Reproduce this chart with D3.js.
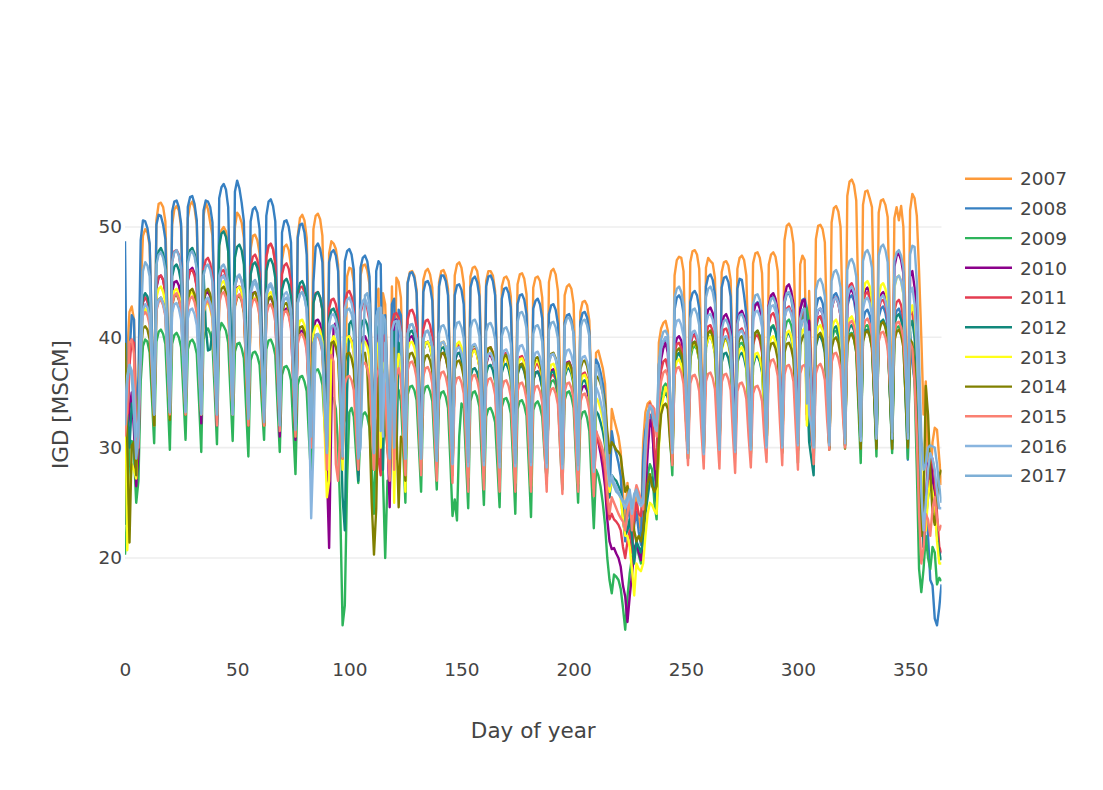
<!DOCTYPE html>
<html>
<head>
<meta charset="utf-8">
<script src="https://cdn.jsdelivr.net/npm/d3@7"></script>
<style>
  body { margin: 0; background: #fff; }
  svg text { font-family: "DejaVu Sans", Verdana, sans-serif; fill: #444; }
</style>
</head>
<body>
<svg id="chart" width="1103" height="790"></svg>
<script>
const years = ['2007', '2008', '2009', '2010', '2011', '2012', '2013', '2014', '2015', '2016', '2017']
const colors = ['#fd9a3a', '#3780c2', '#2eb45b', '#8b008b', '#e43d51', '#11887c',
  '#ffff1a', '#808000', '#fa8072', '#89b5df', '#7eafd6']
const xTicks = [0, 50, 100, 150, 200, 250, 300, 350]
const yTicks = [20, 30, 40, 50]

// daily values, one week per line (Mon..Sun), day 364 at the end
const y2007 = [
30.5,38.2,42.3,42.8,41.6,33.5,31.0,
44.0,49.2,49.8,49.5,48.3,40.5,33.2,
50.6,52.1,52.2,51.8,50.5,42.0,34.1,
50.2,51.6,51.9,51.5,50.0,41.8,33.8,
50.8,52.0,52.3,51.7,50.2,41.5,33.5,
51.0,52.2,51.6,50.4,49.2,40.6,33.0,
48.6,49.7,50.0,49.6,48.1,40.1,33.2,
50.0,51.3,51.0,50.4,49.0,40.5,32.9,
48.0,49.2,49.3,48.8,47.6,39.8,33.0,
47.2,48.3,48.4,48.0,46.8,39.2,32.5,
47.0,48.2,48.4,47.9,46.5,38.8,32.1,
49.2,50.8,51.1,50.6,49.0,40.6,33.0,
49.8,51.0,51.2,50.7,49.2,40.7,32.8,
47.6,48.7,48.5,48.0,46.6,38.5,31.8,
32.5,45.5,46.3,46.2,45.0,37.6,30.9,
45.6,46.5,46.6,46.1,44.8,37.5,30.6,
43.6,44.4,33.0,44.0,43.0,36.2,29.8,
44.6,33.5,45.4,45.0,43.6,36.5,30.2,
45.0,45.9,46.0,45.6,44.3,37.0,30.4,
45.2,46.0,46.2,45.7,44.5,37.2,30.5,
45.0,46.0,46.1,45.6,44.4,36.8,30.0,
45.6,46.6,46.8,46.3,44.9,37.1,30.2,
45.5,46.3,46.4,46.0,44.6,36.9,29.9,
45.1,46.0,46.0,45.6,44.2,36.6,29.6,
44.6,45.4,45.5,45.1,43.7,36.3,29.4,
44.8,45.7,45.8,45.3,43.9,36.4,29.6,
44.5,45.4,45.5,45.1,43.6,36.0,29.1,
45.0,46.0,46.2,45.7,44.2,36.5,29.4,
43.8,44.6,44.8,44.4,43.0,35.6,28.9,
42.3,43.2,43.3,42.9,41.5,34.6,28.4,
38.6,38.8,38.0,37.2,35.8,30.5,26.8,
33.5,32.6,31.8,31.0,29.6,25.8,23.2,
26.8,25.0,21.0,24.5,25.8,23.6,22.4,
30.5,33.2,34.0,34.2,33.5,29.0,26.0,
39.5,40.8,41.3,41.5,40.6,34.5,29.6,
45.6,47.0,47.3,47.2,46.0,37.8,29.8,
46.8,47.8,47.9,47.5,46.2,38.2,30.1,
46.3,47.2,46.9,46.7,45.4,37.6,30.0,
45.9,46.8,46.9,46.5,45.2,37.5,30.2,
46.2,47.2,47.4,47.0,45.6,37.7,30.0,
46.7,47.6,47.7,47.2,45.8,37.9,30.2,
46.6,47.5,47.7,47.3,46.0,38.2,30.6,
48.8,50.1,50.3,49.9,48.5,39.8,31.1,
46.6,47.4,47.0,33.5,44.2,37.5,31.0,
48.9,50.1,50.2,49.8,48.6,40.0,31.6,
50.4,51.7,51.9,51.4,50.0,41.0,32.2,
52.8,54.1,54.3,53.8,52.4,42.5,33.0,
52.0,53.2,53.3,52.6,51.8,42.0,33.2,
51.3,52.4,52.5,52.0,50.9,41.6,32.9,
50.8,51.8,50.6,51.9,50.0,41.2,32.8,
51.5,53.0,52.6,51.0,46.0,40.0,33.0,
36.0,27.0,26.5,30.5,31.8,31.6,29.0,
26.6]

const y2008 = [
48.7,30.5,38.5,42.0,41.6,31.0,36.5,
48.8,50.6,50.5,49.9,48.5,40.5,32.6,
50.2,51.1,51.0,50.2,48.9,40.8,32.1,
51.4,52.3,52.4,51.8,50.3,41.5,32.2,
51.8,52.7,52.8,52.1,50.6,41.7,32.0,
51.5,52.4,52.3,51.8,50.4,41.6,32.3,
52.6,53.6,53.9,53.4,51.8,42.3,32.4,
53.2,54.2,53.5,52.2,50.5,41.5,32.0,
50.5,51.6,51.8,51.3,49.8,41.0,32.2,
51.0,52.3,52.5,51.9,50.5,41.4,32.0,
49.5,50.5,50.6,50.0,48.6,40.0,31.2,
49.0,50.2,50.3,49.5,47.5,37.0,29.5,
45.0,48.2,48.5,48.0,46.8,38.5,30.2,
46.8,47.7,47.9,47.4,46.0,37.8,30.0,
46.9,47.8,48.0,47.5,46.1,37.9,29.9,
46.3,47.2,47.4,46.9,45.5,37.2,29.2,
46.0,46.9,46.6,33.0,42.0,36.0,29.0,
43.0,43.5,32.5,42.5,42.0,35.5,29.0,
44.9,45.8,45.9,45.4,44.0,36.5,29.1,
44.1,45.0,45.1,44.6,43.3,36.0,28.8,
44.6,45.6,45.6,45.1,43.8,36.0,28.6,
43.8,44.7,44.8,44.3,43.0,35.4,28.5,
44.5,45.3,45.5,45.0,43.7,35.8,28.7,
44.6,45.5,45.6,45.1,43.8,35.9,28.6,
43.5,44.4,44.5,44.0,42.7,35.2,28.3,
43.0,43.8,43.9,43.4,42.1,34.9,28.2,
42.6,43.3,43.5,43.0,41.7,34.6,28.0,
42.1,42.9,43.0,42.5,41.2,34.2,27.8,
41.3,42.0,42.1,41.6,40.3,33.6,27.5,
41.4,42.2,42.3,41.8,40.5,33.7,27.6,
38.0,37.6,36.8,35.8,34.2,29.2,25.5,
31.5,30.2,29.5,28.6,27.4,24.0,21.5,
24.8,23.6,20.5,23.0,24.2,22.4,21.2,
29.0,31.5,32.5,33.0,32.4,28.2,25.6,
37.5,39.0,39.6,40.0,39.2,33.6,29.0,
42.5,43.6,43.8,43.4,42.2,35.8,29.6,
43.2,44.0,44.2,43.8,42.6,36.0,29.8,
44.6,45.5,45.7,45.2,43.9,36.8,30.0,
44.5,45.4,45.5,45.0,43.7,36.7,30.1,
44.4,45.3,45.2,43.8,42.0,35.5,29.8,
42.3,43.0,43.2,42.8,41.5,35.2,29.9,
42.8,43.6,43.7,43.2,41.9,35.5,30.0,
43.1,43.9,44.0,43.5,42.2,35.7,30.2,
42.5,43.4,43.5,42.6,33.0,30.5,29.8,
42.6,43.5,43.6,43.1,41.8,35.5,30.0,
43.0,43.8,44.0,43.5,42.2,35.8,30.2,
42.8,43.6,43.8,43.3,42.0,35.6,29.8,
41.5,42.3,42.5,42.0,40.8,35.0,30.0,
41.8,42.6,42.8,42.2,41.0,35.2,29.8,
41.6,42.4,42.6,42.0,40.5,34.5,28.9,
40.5,37.6,36.0,33.5,30.0,26.0,24.0,
25.0,22.0,18.0,17.5,14.5,13.9,15.5,
17.6]

const y2009 = [
20.3,24.0,30.2,30.6,29.4,25.0,27.0,
36.0,39.2,39.8,39.6,38.6,34.5,30.4,
39.6,40.5,40.7,40.3,39.4,34.8,29.8,
39.4,40.2,40.4,40.0,39.1,35.0,30.7,
38.9,39.6,39.8,39.4,38.5,34.2,29.6,
39.8,40.6,40.8,40.3,39.4,35.0,30.3,
40.5,41.3,41.0,40.6,39.5,35.0,30.6,
38.7,39.4,39.5,39.0,38.1,33.6,29.2,
37.9,38.6,38.7,38.3,37.5,34.0,30.7,
38.9,39.7,39.8,39.3,38.4,33.8,29.6,
36.6,37.3,37.4,37.0,36.1,31.8,27.6,
35.7,36.4,36.5,36.0,35.1,31.0,27.1,
36.2,37.0,37.1,36.6,35.7,32.0,28.9,
33.8,34.4,34.5,33.5,30.0,24.0,13.9,
15.7,27.0,33.2,33.6,32.8,29.5,26.8,
31.5,33.0,33.2,32.8,31.8,28.0,24.0,
32.0,33.0,32.5,27.5,20.0,27.0,25.8,
33.5,35.0,35.5,35.2,34.2,30.0,25.0,
34.8,35.5,35.6,35.2,34.3,30.2,26.0,
34.8,35.5,35.6,35.1,34.2,30.0,26.2,
34.3,35.0,35.1,34.6,33.6,29.0,23.8,
25.3,23.4,31.0,34.0,33.6,29.0,24.5,
34.2,35.0,35.1,34.6,33.7,29.2,24.8,
32.8,33.5,33.6,33.1,32.3,28.5,24.6,
33.7,34.4,34.5,34.0,33.1,28.8,24.0,
33.5,34.2,34.3,33.8,32.9,28.5,23.7,
33.4,34.0,34.2,33.7,32.8,29.5,27.0,
35.2,36.0,36.1,35.7,34.6,30.0,26.2,
34.3,35.0,35.1,34.6,33.6,29.2,25.0,
32.5,33.2,33.3,32.7,31.5,27.0,22.7,
28.0,27.5,26.5,25.0,23.0,20.0,18.0,
16.8,18.5,18.3,18.0,17.2,15.5,13.5,
16.5,18.6,20.0,21.0,21.2,20.3,19.5,
22.5,25.5,27.5,28.5,28.0,25.0,23.5,
32.0,34.5,35.5,35.8,35.0,31.0,27.5,
37.2,38.3,38.5,38.2,37.2,33.0,29.0,
38.0,39.0,39.2,38.9,37.9,33.6,29.2,
39.5,40.4,40.6,40.2,39.2,34.5,29.5,
39.0,39.9,40.0,39.6,38.6,34.0,29.4,
38.5,39.4,39.5,39.1,38.0,33.6,29.0,
39.5,40.4,40.6,40.1,39.0,34.3,29.6,
40.0,40.9,41.1,40.6,39.6,34.6,29.5,
40.5,41.4,41.6,41.1,40.0,34.5,28.6,
40.6,41.5,42.9,42.5,41.3,35.0,30.5,
40.8,41.7,41.9,41.3,40.2,35.0,30.0,
39.6,40.5,40.6,40.1,39.2,34.8,30.7,
39.5,40.3,40.4,39.8,38.6,33.5,28.6,
40.2,41.0,41.1,40.6,39.5,34.5,29.2,
40.5,41.4,41.5,41.0,40.0,34.8,29.5,
40.0,40.9,41.0,40.5,39.4,34.4,29.0,
39.5,39.0,36.0,28.0,19.0,16.9,19.0,
22.0,20.0,19.0,21.0,20.5,17.6,18.2,
17.9]

const y2010 = [
24.0,30.5,33.5,35.0,31.5,26.5,29.5,
40.5,43.2,43.6,43.3,42.4,37.5,32.0,
44.5,45.4,45.6,45.2,44.0,38.5,33.1,
44.1,45.0,45.1,44.7,43.6,38.2,33.0,
45.2,46.1,46.3,45.8,44.6,38.6,32.2,
43.2,44.0,44.1,43.7,42.6,37.4,32.0,
44.6,45.5,45.6,45.1,44.0,38.8,33.5,
43.6,44.5,44.6,44.1,43.0,37.8,32.5,
43.2,44.0,44.1,43.6,42.5,37.2,32.0,
42.6,43.5,43.6,43.1,42.0,36.6,31.0,
41.7,42.5,42.6,42.1,41.0,35.8,30.7,
39.8,40.5,40.6,40.2,39.2,35.0,31.0,
40.8,41.5,41.6,41.2,40.0,35.0,28.0,
20.9,33.0,41.0,41.3,40.2,34.5,29.0,
39.3,40.0,40.1,39.7,38.7,33.2,27.5,
39.2,40.0,40.1,39.6,38.6,33.4,28.0,
39.7,40.5,40.6,40.1,38.0,31.0,24.6,
38.5,41.4,41.6,41.1,40.0,34.5,28.0,
39.2,40.0,40.1,39.6,38.6,33.5,28.0,
38.8,39.5,39.6,39.1,38.1,33.2,28.0,
37.8,38.5,38.6,38.2,37.2,32.4,27.5,
37.8,38.5,38.6,38.1,37.1,32.8,28.7,
38.0,38.8,38.9,38.4,37.4,32.6,27.8,
37.5,38.3,38.4,37.9,36.9,32.2,27.5,
37.3,38.0,38.1,37.6,36.6,32.0,27.3,
36.8,37.5,37.6,37.1,36.1,31.6,27.0,
36.1,36.8,36.9,36.5,35.5,31.2,27.0,
36.3,37.0,37.1,36.7,35.7,31.4,27.2,
37.0,37.7,37.8,37.3,36.3,31.8,27.7,
34.9,35.5,35.6,35.2,34.3,30.5,26.5,
31.5,30.5,29.5,28.2,26.5,23.5,21.5,
20.8,20.9,20.4,20.0,19.2,17.5,16.5,
14.2,16.5,18.5,20.5,21.5,20.5,19.8,
22.0,26.0,29.5,32.5,31.8,28.5,26.5,
35.0,38.0,39.0,39.5,38.6,34.0,30.0,
39.0,39.9,40.1,39.7,38.6,34.2,30.1,
39.3,40.1,40.3,39.9,38.8,34.5,30.3,
41.6,42.5,42.7,42.2,41.0,35.8,30.5,
41.0,41.9,42.1,41.6,40.5,35.5,30.4,
41.3,42.2,42.4,41.9,40.7,35.6,30.3,
42.0,42.9,43.1,42.6,41.4,36.0,30.4,
42.9,43.8,44.0,43.5,42.3,36.6,30.6,
43.6,44.6,44.8,44.2,43.0,37.0,30.8,
42.5,43.3,43.4,33.0,41.5,36.0,30.5,
41.6,42.4,42.6,42.1,41.0,35.8,30.8,
42.6,43.4,43.6,43.1,42.0,36.5,31.0,
43.2,44.1,44.3,43.8,42.6,37.0,31.2,
43.4,44.3,44.5,44.0,42.8,37.2,31.5,
43.1,43.9,44.1,43.6,42.4,36.8,31.2,
46.4,47.4,47.6,47.0,45.8,38.5,31.0,
45.5,46.0,44.5,41.0,36.0,26.0,21.0,
25.5,28.5,29.0,27.5,25.0,22.5,20.5,
20.5]

const y2011 = [
26.0,31.5,37.5,39.8,39.5,30.5,31.0,
40.5,43.2,43.6,43.3,42.4,37.8,33.0,
44.6,45.5,45.6,45.2,44.1,38.8,33.1,
46.8,47.8,47.9,47.5,46.2,39.8,33.4,
45.1,46.0,46.1,45.6,44.5,38.8,33.0,
46.1,47.0,47.2,46.7,45.5,39.0,32.5,
45.1,46.0,46.1,45.6,44.5,38.6,33.0,
44.6,45.4,45.6,45.1,44.0,38.0,32.0,
46.4,47.3,47.5,47.0,45.8,39.0,32.0,
47.3,48.3,48.5,48.0,46.7,39.5,32.0,
45.7,46.5,46.7,46.2,45.0,38.5,31.5,
43.7,44.5,44.6,44.1,43.0,37.2,31.0,
43.2,44.0,44.1,43.6,42.5,36.5,30.0,
42.6,43.4,43.5,43.0,41.9,35.6,29.0,
43.2,44.0,44.2,43.7,42.5,35.8,29.0,
42.2,43.0,43.1,42.6,41.5,35.0,28.0,
40.0,29.0,27.5,38.5,40.2,34.0,28.5,
41.3,42.1,42.2,41.8,40.7,34.8,29.0,
41.6,42.4,42.5,42.0,40.9,34.9,29.0,
40.7,41.5,41.6,41.1,40.0,34.2,28.5,
38.8,39.5,39.6,39.1,38.0,33.0,28.4,
38.5,39.2,39.3,38.8,37.8,32.8,28.0,
38.1,38.8,38.9,38.4,37.4,32.5,27.8,
38.3,39.0,39.1,38.6,37.6,32.6,28.0,
37.8,38.5,38.6,38.1,37.1,32.2,27.6,
37.5,38.2,38.3,37.8,36.8,32.0,27.5,
36.8,37.5,37.6,37.1,36.1,31.6,27.3,
35.9,36.5,36.6,36.2,35.2,31.0,27.0,
36.9,37.6,37.7,37.2,36.2,31.5,27.2,
36.0,36.7,36.8,36.3,35.3,30.8,26.8,
31.0,30.5,30.0,29.2,27.8,25.0,23.5,
24.0,23.5,23.3,23.0,22.5,21.0,20.0,
21.5,22.5,20.5,23.5,25.0,24.0,23.8,
25.5,29.5,32.5,34.0,33.5,30.0,28.0,
35.5,37.0,37.8,38.0,37.2,33.0,29.5,
38.6,39.4,39.5,39.0,38.0,33.8,29.8,
39.3,40.1,40.2,39.7,38.7,34.3,30.0,
40.1,41.0,41.1,40.6,39.5,34.8,30.2,
39.8,40.7,40.8,40.3,39.2,34.6,30.2,
39.8,40.6,40.8,40.3,39.2,34.5,30.0,
39.3,40.1,40.2,39.7,38.6,34.2,30.2,
41.2,42.0,42.2,41.7,40.5,35.3,30.4,
41.8,42.6,42.8,42.3,41.1,35.6,30.5,
41.5,42.3,42.5,32.5,40.0,35.0,30.4,
41.0,41.8,41.9,41.4,40.3,35.2,30.6,
42.5,43.4,43.6,43.1,41.9,36.3,31.0,
43.8,44.7,44.9,44.3,43.1,37.0,31.4,
43.1,43.9,44.1,43.6,42.4,37.2,32.0,
42.5,43.3,43.4,42.9,41.8,37.6,33.8,
42.4,43.2,43.4,42.9,41.7,36.5,31.5,
42.0,42.5,40.5,37.0,32.0,25.0,21.5,
24.0,26.5,28.5,29.0,27.5,24.0,21.0,
20.5]

const y2012 = [
23.0,33.0,30.0,34.0,33.0,28.5,31.0,
42.0,43.6,44.0,43.7,42.8,37.5,32.0,
46.8,47.8,48.1,47.6,46.4,40.0,33.0,
45.5,46.4,46.6,46.1,45.0,39.2,33.0,
46.9,47.9,48.1,47.6,46.4,40.0,33.2,
46.0,41.0,38.8,38.9,40.5,39.0,36.0,
48.3,49.4,49.6,49.1,47.8,41.0,34.0,
47.2,48.2,48.4,47.9,46.6,40.2,33.0,
45.7,46.6,46.8,46.3,45.1,39.2,33.0,
46.0,46.9,47.1,46.6,45.4,39.0,32.0,
44.3,45.1,45.3,44.8,43.7,38.0,32.0,
44.1,44.9,45.1,44.6,43.5,37.6,31.0,
43.1,43.9,44.1,43.6,42.5,36.5,30.0,
41.7,42.5,42.6,42.1,41.0,33.0,25.5,
22.5,35.0,41.2,41.5,40.5,34.5,27.0,
40.7,41.5,41.6,41.1,40.0,34.2,28.0,
40.2,41.0,41.1,28.0,37.5,33.5,27.5,
39.8,40.5,29.0,39.5,39.0,33.5,28.0,
39.7,40.5,40.6,40.1,39.0,33.6,28.0,
38.8,39.5,39.6,39.1,38.1,33.0,28.0,
38.3,39.0,39.1,38.6,37.6,32.6,27.8,
37.8,38.5,38.6,38.1,37.1,32.3,27.6,
36.4,37.1,37.2,36.8,35.8,31.4,27.2,
36.7,37.4,37.5,37.0,36.0,31.5,27.2,
36.8,37.5,37.6,37.1,36.1,31.6,27.0,
36.6,37.3,37.4,36.9,35.9,31.4,26.8,
36.1,36.8,36.9,36.4,35.4,31.0,26.7,
36.1,36.8,36.9,36.4,35.4,31.0,26.8,
36.4,37.1,37.2,36.7,35.7,31.2,26.9,
35.3,36.0,36.1,35.6,34.6,30.4,26.3,
33.3,33.0,32.3,31.5,30.2,27.5,25.5,
27.5,27.2,27.0,26.5,26.0,23.5,22.0,
22.5,23.5,22.0,19.5,21.5,21.0,20.5,
21.5,24.0,25.5,27.0,27.3,26.0,25.0,
30.5,34.2,34.6,35.0,34.5,31.5,29.0,
37.6,38.4,38.6,38.1,37.1,33.0,29.0,
38.6,39.5,39.6,39.1,38.0,33.8,29.5,
39.1,39.9,40.1,39.6,38.5,34.2,29.6,
37.7,38.5,38.6,38.1,37.1,33.2,29.5,
37.7,38.4,38.6,38.1,37.1,33.0,29.4,
37.4,38.2,38.3,37.8,36.8,33.0,29.6,
40.0,40.8,41.0,40.5,39.4,34.6,29.8,
39.5,40.2,40.4,39.9,38.8,34.3,29.8,
39.4,40.1,40.3,36.0,30.5,29.0,27.5,
39.2,40.0,40.1,39.6,38.6,34.2,30.0,
40.0,40.8,41.0,40.5,39.4,34.8,30.2,
40.1,40.9,41.1,40.6,39.5,34.8,30.4,
39.8,40.6,40.7,40.2,39.1,34.6,30.2,
40.6,41.4,41.6,41.1,40.0,35.0,30.5,
41.1,41.9,42.1,41.6,40.5,35.3,30.4,
41.0,41.5,40.0,36.5,31.0,25.0,21.0,
23.5,25.5,26.5,26.0,24.5,22.0,20.5,
19.8]

const y2013 = [
37.9,20.7,25.5,28.5,28.0,27.2,33.0,
39.5,42.0,42.6,42.3,41.4,37.0,32.0,
43.6,44.4,44.6,44.1,43.1,38.0,32.6,
43.4,44.2,44.4,43.9,42.9,38.0,33.0,
43.1,43.9,44.1,43.6,42.6,37.8,33.0,
42.2,43.0,43.1,42.6,41.6,37.2,33.0,
44.1,44.9,45.1,44.6,43.5,38.3,33.0,
43.6,44.4,44.6,44.1,43.0,37.8,32.5,
42.7,43.5,43.6,43.1,42.1,37.0,32.0,
43.1,43.9,44.1,43.6,42.6,37.3,32.0,
42.2,43.0,43.1,42.6,41.6,36.5,31.5,
40.7,41.5,41.6,41.1,40.1,35.5,31.0,
40.3,41.0,41.1,40.6,39.6,31.5,25.5,
27.0,39.5,40.1,39.7,38.7,33.5,28.0,
39.2,40.0,40.1,39.6,38.6,33.8,29.0,
38.8,39.5,39.6,39.1,38.1,33.2,28.0,
38.8,39.5,30.0,37.5,37.8,33.0,28.0,
38.0,25.0,36.0,38.5,38.0,32.5,26.0,
38.8,39.5,39.6,39.1,38.1,33.2,28.0,
38.8,39.5,39.6,39.1,38.1,33.2,28.0,
38.8,39.5,39.6,39.1,38.1,33.0,27.5,
38.8,39.4,39.6,39.1,38.1,32.8,27.3,
38.0,38.7,38.8,38.3,37.3,32.4,27.2,
37.8,38.5,38.6,38.1,37.1,32.2,27.0,
37.3,38.0,38.1,37.6,36.6,31.8,26.8,
37.3,38.0,38.1,37.6,36.6,31.6,26.5,
37.1,37.8,37.9,37.4,36.4,31.6,26.8,
36.8,37.5,37.6,37.1,36.1,31.4,26.8,
36.7,37.4,37.5,37.0,36.0,31.3,26.7,
35.8,36.5,36.6,36.1,35.1,30.6,26.3,
34.5,34.2,33.5,32.6,31.2,28.0,26.0,
27.0,26.5,26.2,26.0,25.4,23.5,22.0,
22.0,21.0,19.0,16.6,19.5,19.0,18.8,
19.5,22.0,24.0,25.0,24.8,24.3,24.0,
30.0,33.5,34.5,35.5,35.0,31.5,29.0,
37.1,37.8,38.0,37.5,36.5,32.8,29.2,
38.5,39.3,39.5,39.0,38.0,33.8,29.5,
39.1,39.9,40.1,39.6,38.5,34.2,29.6,
38.8,39.6,39.8,39.3,38.2,34.0,29.6,
38.1,38.9,39.1,38.6,37.5,33.5,29.4,
37.7,38.5,38.6,38.1,37.1,33.2,29.5,
39.1,39.9,40.1,39.6,38.5,34.2,29.8,
39.6,40.4,40.6,40.1,39.0,34.6,30.0,
39.8,40.6,40.8,32.0,37.0,34.0,30.0,
40.1,40.9,41.1,40.6,39.5,35.0,30.2,
40.6,41.4,41.6,41.1,40.0,35.4,30.4,
40.9,41.7,41.9,41.4,40.3,35.6,30.5,
44.0,44.9,45.1,44.6,43.4,37.6,31.0,
43.8,44.7,44.9,44.4,43.2,37.4,31.0,
44.5,45.4,45.6,45.1,43.9,37.8,31.2,
42.1,42.9,42.0,39.0,34.0,28.0,23.0,
22.5,25.5,27.0,26.0,24.5,21.5,19.5,
19.5]

const y2014 = [
39.5,30.5,21.4,30.2,30.5,27.5,33.5,
38.5,40.8,41.0,40.7,39.8,36.0,32.0,
42.6,43.4,43.6,43.1,42.1,37.5,32.5,
42.9,43.7,43.9,43.4,42.4,37.8,33.0,
43.4,44.2,44.4,43.9,42.8,38.0,33.0,
43.4,44.2,44.4,43.9,42.8,38.0,33.0,
43.6,44.4,44.6,44.1,43.0,38.0,33.0,
42.8,43.6,43.8,43.3,42.2,37.3,32.0,
43.1,43.9,44.1,43.6,42.5,37.4,32.0,
42.7,43.5,43.7,43.2,42.1,37.1,32.0,
42.2,43.0,43.1,42.6,41.5,36.5,31.0,
40.1,40.9,41.0,40.5,39.5,35.0,30.5,
39.4,40.2,40.3,39.8,38.8,34.4,30.0,
38.7,39.5,39.6,39.1,38.1,33.6,29.0,
37.8,38.5,38.6,38.1,37.1,32.8,28.0,
37.8,38.5,38.6,37.0,32.0,25.0,20.3,
24.5,35.5,38.0,36.5,32.0,30.0,28.0,
38.5,39.0,32.0,24.6,31.0,30.5,27.0,
37.8,38.5,38.6,38.1,37.1,33.0,29.0,
37.6,38.3,38.4,37.9,36.9,32.6,28.5,
37.8,38.5,38.6,38.1,37.1,32.8,28.5,
37.1,37.8,37.9,37.4,36.4,32.2,28.0,
38.5,39.2,39.3,38.8,37.8,33.2,28.5,
38.3,39.0,39.1,38.6,37.6,33.0,28.2,
37.6,38.3,38.4,37.9,36.9,32.4,27.8,
36.8,37.5,37.6,37.1,36.1,31.8,27.5,
37.4,38.1,38.2,37.7,36.7,32.2,27.8,
37.8,38.5,38.6,38.1,37.1,32.6,28.0,
36.9,37.6,37.7,37.2,36.2,32.0,27.8,
37.1,37.8,37.9,37.4,36.4,32.2,28.0,
36.5,36.3,35.8,35.0,34.0,31.5,29.5,
30.5,30.2,29.8,29.6,29.2,27.5,26.0,
26.5,25.5,24.0,22.5,21.5,22.0,21.5,
22.5,25.0,26.8,27.6,26.5,26.0,26.5,
30.5,33.0,33.8,34.0,33.5,30.5,28.5,
38.0,38.8,39.0,38.5,37.5,33.5,29.5,
38.6,39.4,39.6,39.1,38.1,34.0,29.6,
39.6,40.4,40.6,40.1,39.0,34.6,29.8,
39.0,39.8,40.0,39.5,38.4,34.2,29.7,
39.1,39.9,40.1,39.6,38.5,34.3,29.8,
39.6,40.4,40.6,40.1,39.0,34.6,29.8,
38.6,39.4,39.5,39.0,38.0,33.8,29.6,
38.6,39.4,39.5,39.0,38.0,33.8,29.7,
39.3,40.0,40.2,39.7,38.6,31.5,29.6,
39.4,40.2,40.4,39.9,38.8,34.5,29.8,
39.0,39.8,40.0,39.5,38.4,34.2,29.9,
39.3,40.1,40.3,39.8,38.7,34.4,29.9,
39.6,40.4,40.6,40.1,39.0,34.6,29.9,
40.4,41.2,41.4,40.9,39.8,35.0,29.9,
39.7,40.5,40.7,40.2,39.1,34.6,30.0,
39.8,39.5,37.5,32.0,26.0,22.0,24.5,
35.6,33.0,28.0,24.0,23.0,25.5,27.5,
28.0]

const y2015 = [
31.0,33.5,39.5,39.8,38.5,30.5,30.0,
40.0,42.0,42.3,42.0,41.1,37.0,33.0,
42.4,43.2,43.4,42.9,41.9,37.6,33.0,
43.0,43.8,44.0,43.5,42.5,38.0,33.0,
42.7,43.5,43.7,43.2,42.2,37.6,33.0,
42.3,43.1,43.3,42.8,41.8,37.0,32.0,
43.1,43.9,44.1,43.6,42.5,37.6,33.0,
42.9,43.7,43.9,43.4,42.3,37.2,32.0,
42.5,43.3,43.5,43.0,41.9,37.0,32.0,
42.0,42.8,43.0,42.5,41.4,36.6,31.5,
41.5,42.3,42.4,41.9,40.8,36.0,31.0,
39.4,40.2,40.3,39.8,38.8,34.6,30.0,
39.2,40.0,40.1,39.6,38.6,33.6,28.0,
38.0,38.4,37.8,28.5,27.0,32.0,29.0,
35.8,36.4,36.5,36.1,35.2,31.5,28.0,
36.9,37.6,37.7,37.2,36.2,32.2,28.0,
36.3,37.0,37.1,36.6,35.6,30.0,27.0,
36.6,28.0,36.5,37.2,36.2,31.8,27.5,
37.0,37.7,37.8,37.3,36.3,32.0,27.5,
36.5,37.2,37.3,36.8,35.8,31.6,27.0,
36.1,36.8,36.9,36.4,35.4,31.2,26.8,
35.6,36.3,36.4,35.9,34.9,30.8,26.0,
35.8,36.5,36.6,36.1,35.1,30.8,26.2,
35.5,36.2,36.3,35.8,34.8,30.6,26.0,
35.3,36.0,36.1,35.6,34.6,30.4,26.0,
35.1,35.8,35.9,35.4,34.4,30.3,26.0,
34.8,35.5,35.6,35.1,34.1,30.0,26.0,
34.6,35.3,35.4,34.9,33.9,29.9,25.8,
35.1,35.8,35.9,35.4,34.4,30.2,26.0,
34.1,34.8,34.9,34.4,33.4,29.6,25.6,
31.5,31.0,30.5,29.8,28.6,26.0,24.0,
25.5,25.0,24.5,24.0,23.6,23.3,22.5,
24.0,26.0,22.5,25.5,26.6,26.0,25.3,
24.4,28.5,32.0,33.9,33.8,33.5,31.0,
34.0,36.0,36.8,37.0,36.5,32.5,28.4,
36.5,37.2,37.3,36.8,35.8,32.0,28.4,
35.8,36.5,36.6,36.1,35.1,31.4,28.1,
36.0,36.7,36.8,36.3,35.3,31.4,28.1,
35.9,36.6,36.7,36.2,35.2,31.2,27.7,
35.1,35.8,35.9,35.4,34.4,31.0,28.2,
34.9,35.5,35.6,35.1,34.2,31.0,28.7,
37.1,37.9,38.0,37.5,36.5,32.2,28.4,
36.6,37.4,37.5,37.0,36.0,31.8,28.0,
36.7,37.4,37.5,37.0,36.0,31.8,28.5,
36.7,37.4,37.6,37.1,36.1,32.5,29.8,
37.7,38.5,38.6,38.1,37.1,33.0,30.0,
40.5,41.3,41.5,41.0,39.9,35.5,31.8,
40.7,41.5,41.7,41.2,40.1,35.8,32.4,
39.6,40.4,40.5,40.0,39.0,35.8,33.7,
40.5,41.3,41.4,40.9,39.9,36.5,34.6,
39.5,39.0,36.0,31.0,24.0,19.5,20.9,
24.0,23.5,22.0,24.5,25.5,23.5,22.5,
23.0]

const y2016 = [
33.5,36.5,37.5,37.0,35.0,31.0,32.5,
38.0,42.5,43.0,42.7,41.8,37.5,33.0,
42.6,43.4,43.6,43.1,42.1,37.8,33.2,
42.2,43.0,43.1,42.6,41.6,37.5,33.2,
41.7,42.5,42.6,42.1,41.1,37.0,33.0,
42.6,43.4,43.6,43.1,42.1,37.6,33.0,
44.6,45.4,45.6,45.1,44.0,38.6,33.0,
44.7,45.5,45.7,45.2,44.1,38.6,32.8,
43.9,44.7,44.9,44.4,43.3,38.0,32.5,
43.9,44.7,44.9,44.4,43.3,38.0,32.3,
43.1,43.9,44.1,43.6,42.5,37.4,32.0,
43.1,43.9,44.1,43.6,42.5,34.0,23.6,
30.0,40.0,40.3,40.1,39.3,34.8,30.5,
41.2,42.0,42.1,41.6,40.6,35.5,30.0,
42.6,43.4,43.6,43.1,42.0,36.0,29.5,
42.5,43.3,43.5,43.0,41.9,35.8,29.5,
41.8,42.6,42.7,31.0,39.5,35.0,29.2,
40.6,41.4,41.5,41.0,40.0,34.8,29.0,
40.3,41.1,41.2,40.7,39.7,34.6,29.0,
39.8,40.5,40.6,40.1,39.1,34.2,28.8,
38.8,39.5,39.6,39.1,38.1,33.6,28.5,
38.3,39.0,39.1,38.6,37.6,33.2,28.3,
38.6,39.3,39.4,38.9,37.9,33.4,28.4,
37.8,38.5,38.6,38.1,37.1,32.8,28.2,
38.1,38.8,38.9,38.4,37.4,33.0,28.3,
38.5,39.2,39.3,38.8,37.8,33.3,28.4,
37.9,38.6,38.7,38.2,37.2,32.9,28.2,
37.7,38.4,38.5,38.0,37.0,32.7,28.1,
38.1,38.8,38.9,38.4,37.4,33.0,28.0,
37.5,38.2,38.3,37.8,36.8,32.5,27.8,
35.5,35.0,34.2,33.2,31.8,28.5,26.5,
27.5,26.8,26.5,26.0,25.5,25.0,24.5,
25.0,26.0,24.0,25.5,26.0,25.0,24.7,
25.0,30.0,33.0,33.8,33.5,32.0,31.5,
36.5,39.0,39.7,40.0,39.4,34.5,29.5,
40.7,41.5,41.6,41.1,40.1,35.2,29.5,
39.7,40.5,40.6,40.1,39.1,34.6,29.4,
41.2,42.0,42.1,41.6,40.6,35.6,29.8,
39.2,40.0,40.1,39.6,38.6,34.4,29.6,
39.7,40.5,40.6,40.1,39.1,34.6,29.8,
41.5,42.3,42.4,41.9,40.9,35.8,30.0,
42.0,42.8,42.9,42.4,41.4,36.0,30.0,
41.7,42.5,42.6,42.1,41.1,35.8,30.2,
40.7,41.5,41.6,41.1,33.0,32.0,30.0,
41.7,42.5,42.6,42.1,41.1,36.0,30.2,
42.6,43.4,43.6,43.1,42.0,36.5,30.4,
43.6,44.4,44.6,44.1,43.0,37.2,30.6,
42.6,43.4,43.6,43.1,42.0,36.6,30.8,
42.8,43.6,43.8,43.3,42.2,36.8,30.8,
44.6,45.4,45.6,45.1,44.0,37.6,30.8,
44.0,44.5,43.0,39.0,33.0,26.0,22.5,
25.0,28.0,29.5,29.0,28.0,26.0,24.5,
24.5]

const y2017 = [
32.0,36.0,37.5,36.5,33.0,29.0,31.0,
41.0,46.0,46.8,46.5,45.5,39.5,33.0,
46.6,47.5,47.7,47.2,46.1,40.0,33.2,
46.8,47.7,47.9,47.4,46.3,40.2,33.3,
46.7,47.6,47.8,47.3,46.2,40.0,33.1,
45.6,46.4,46.6,46.1,45.0,39.4,33.0,
45.6,46.4,46.6,46.1,45.0,39.4,33.0,
44.6,45.4,45.6,45.1,44.0,38.6,32.6,
44.2,45.0,45.2,44.7,43.6,38.2,32.3,
43.7,44.5,44.7,44.2,43.1,37.8,32.0,
42.6,43.4,43.6,43.1,42.0,37.0,31.6,
43.1,43.9,44.1,43.6,42.5,37.2,31.0,
39.4,40.2,40.3,39.8,38.8,34.0,29.5,
40.2,41.0,41.1,40.6,39.6,34.5,29.2,
41.7,42.5,42.6,42.1,41.1,35.4,29.0,
30.0,38.0,43.8,44.0,43.0,36.5,29.5,
41.8,42.6,31.5,42.0,41.5,35.5,29.0,
40.6,30.0,41.0,41.5,40.4,35.0,29.0,
40.3,41.1,41.2,40.7,39.7,34.6,29.0,
39.8,40.5,40.6,40.1,39.1,34.2,28.8,
40.3,41.0,41.1,40.6,39.6,34.6,28.6,
40.6,41.3,41.4,40.9,39.9,34.8,28.7,
40.8,41.5,41.6,41.1,40.1,34.9,28.8,
40.5,41.2,41.3,40.8,39.8,34.7,28.7,
40.1,40.8,40.9,40.4,39.4,34.4,28.6,
41.4,42.2,42.3,41.8,40.8,35.2,28.7,
40.3,41.0,41.1,40.6,39.6,34.6,28.6,
40.6,41.3,41.4,40.9,39.9,34.7,28.5,
41.0,41.7,41.8,41.3,40.3,34.9,28.4,
40.8,41.5,41.6,41.1,40.1,34.6,28.2,
37.5,37.0,36.0,34.8,33.2,29.5,27.0,
27.0,26.5,26.0,25.8,25.5,25.2,25.0,
25.5,26.2,24.5,25.8,26.2,25.5,25.0,
25.5,30.5,33.2,33.6,33.4,32.5,32.0,
37.5,39.8,40.5,40.6,40.2,35.0,29.8,
43.6,44.4,44.6,44.1,43.0,37.0,29.8,
41.7,42.5,42.6,42.1,41.1,35.8,29.6,
43.6,44.4,44.6,44.1,43.0,37.0,29.9,
40.7,41.5,41.6,41.1,40.1,35.2,29.8,
41.2,42.0,42.1,41.6,40.6,35.5,30.0,
43.0,43.8,43.9,43.4,42.3,36.6,30.2,
42.7,43.5,43.6,43.1,42.0,36.4,30.2,
43.2,44.0,44.1,43.6,42.5,36.8,30.4,
41.7,42.5,42.6,34.0,40.5,35.5,30.2,
44.3,45.1,45.3,44.8,43.7,37.5,30.5,
45.1,45.9,46.1,45.6,44.5,38.0,30.8,
46.1,46.9,47.1,46.6,45.5,38.6,31.0,
46.9,47.7,47.9,47.4,46.3,39.2,31.2,
47.4,48.2,48.4,47.9,46.8,39.5,31.4,
46.9,47.7,47.9,47.4,46.3,39.2,31.4,
47.5,48.3,48.2,45.0,38.0,31.0,28.0,
28.5,30.0,30.2,30.1,30.0,28.5,26.5,
25.0]

const allSeries = [y2007, y2008, y2009, y2010, y2011, y2012, y2013, y2014, y2015, y2016, y2017]

const width = 1103
const height = 790
const plot = {left: 125, right: 941.5, top: 157, bottom: 652.2}

const svg = d3.select('#chart')

svg.append('rect')
  .attr('width', width)
  .attr('height', height)
  .attr('fill', '#fff')

const x = d3.scaleLinear()
  .domain([0, 364])
  .range([plot.left, plot.right])

const y = d3.scaleLinear()
  .domain([11.46, 56.34])
  .range([plot.bottom, plot.top])

// horizontal grid
svg.append('g')
  .selectAll('line')
  .data(yTicks)
  .join('line')
  .attr('x1', plot.left)
  .attr('x2', plot.right)
  .attr('y1', d => y(d))
  .attr('y2', d => y(d))
  .attr('stroke', '#eee')
  .attr('stroke-width', 1.6)

// y axis labels
const yAxis = svg.append('g')
  .attr('transform', `translate(${plot.left}, 0)`)
  .call(d3.axisLeft(y).tickValues(yTicks).tickSize(0).tickPadding(3))
yAxis.select('.domain').remove()
yAxis.selectAll('text')
  .attr('font-family', '"DejaVu Sans", Verdana, sans-serif')
  .attr('font-size', 18.5)
  .attr('fill', '#444')

// x axis labels
const xAxis = svg.append('g')
  .attr('transform', `translate(0, ${plot.bottom})`)
  .call(d3.axisBottom(x).tickValues(xTicks).tickSize(0).tickPadding(11))
xAxis.select('.domain').remove()
xAxis.selectAll('text')
  .attr('font-family', '"DejaVu Sans", Verdana, sans-serif')
  .attr('font-size', 18.5)
  .attr('fill', '#444')

// axis titles
svg.append('text')
  .attr('x', (plot.left + plot.right) / 2)
  .attr('y', 738)
  .attr('text-anchor', 'middle')
  .attr('font-size', 21.5)
  .text('Day of year')

svg.append('text')
  .attr('transform', `translate(68, ${(plot.top + plot.bottom) / 2}) rotate(-90)`)
  .attr('text-anchor', 'middle')
  .attr('font-size', 21.5)
  .text('IGD [MSCM]')

// lines
svg.append('clipPath')
  .attr('id', 'plot-clip')
  .append('rect')
  .attr('x', plot.left)
  .attr('y', plot.top - 2)
  .attr('width', plot.right - plot.left)
  .attr('height', plot.bottom - plot.top + 4)

const line = d3.line()
  .x((d, i) => x(i))
  .y(d => y(d))

svg.append('g')
  .attr('clip-path', 'url(#plot-clip)')
  .selectAll('path')
  .data(allSeries)
  .join('path')
  .attr('d', line)
  .attr('fill', 'none')
  .attr('stroke', (d, i) => colors[i])
  .attr('stroke-width', 2.4)
  .attr('stroke-linejoin', 'round')

// legend
const legend = svg.append('g')
  .selectAll('g')
  .data(years)
  .join('g')
  .attr('transform', (d, i) => `translate(965, ${178.7 + i * 29.7})`)

legend.append('line')
  .attr('x1', 0)
  .attr('x2', 47)
  .attr('stroke', (d, i) => colors[i])
  .attr('stroke-width', 2.4)

legend.append('text')
  .attr('x', 55)
  .attr('y', 6.7)
  .attr('font-size', 18.5)
  .text(d => d)
</script>
</body>
</html>
